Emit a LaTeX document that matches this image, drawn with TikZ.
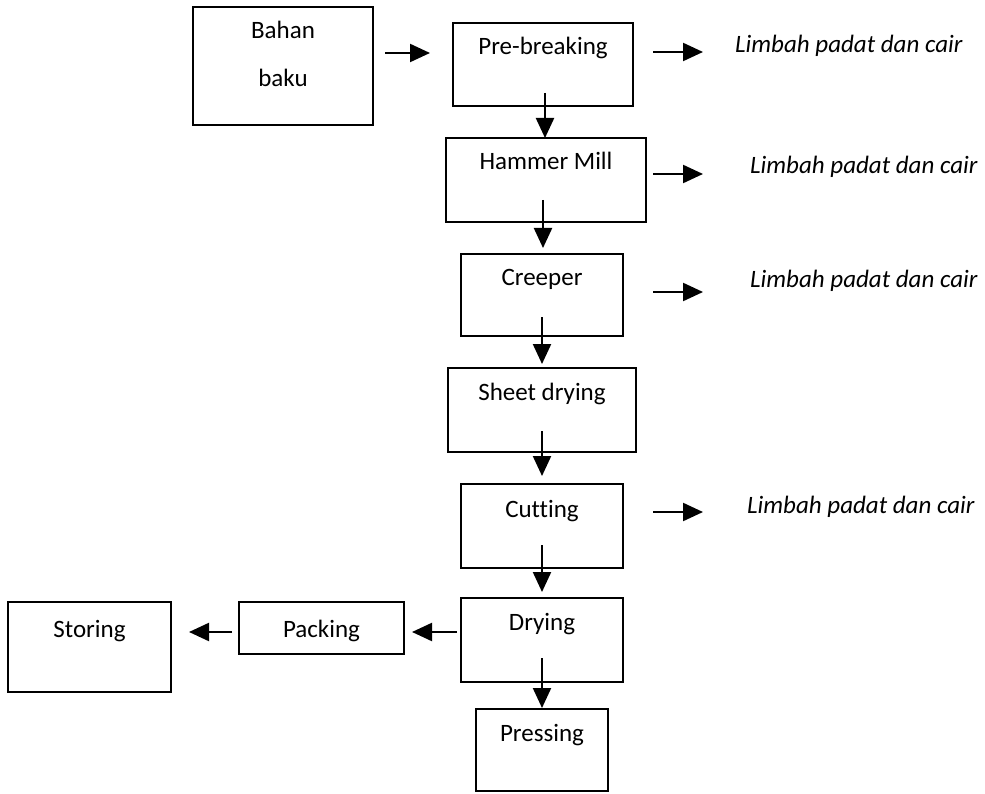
\documentclass[tikz,border=0pt]{standalone}
\usepackage{fontspec}
\setmainfont[Ligatures=CommonOff]{Carlito}
\usetikzlibrary{arrows.meta}
\begin{document}
\begin{tikzpicture}[x=1pt,y=-1pt,
  box/.style={draw,line width=2.4pt,inner sep=0pt},
  txt/.style={anchor=base,inner sep=0pt,font=\fontsize{25}{29}\selectfont},
  waste/.style={anchor=base west,inner sep=0pt,font=\fontsize{25}{29}\selectfont\itshape},
  arr/.style={line width=2.2pt,-{Triangle[length=20pt,width=18pt]}}]
\useasboundingbox (0,0) rectangle (985,794);
% boxes
\node[box,minimum width=180pt,minimum height=118pt] (bb) at (283,66) {};
\node[box,minimum width=180pt,minimum height=83pt] (pb) at (543,64.5) {};
\node[box,minimum width=200pt,minimum height=84pt] (hm) at (546,180) {};
\node[box,minimum width=162pt,minimum height=82pt] (cr) at (542,295) {};
\node[box,minimum width=188pt,minimum height=84pt] (sd) at (542,410) {};
\node[box,minimum width=162pt,minimum height=84pt] (cu) at (542,526) {};
\node[box,minimum width=162pt,minimum height=84pt] (dr) at (542,640) {};
\node[box,minimum width=132pt,minimum height=82pt] (pr) at (542,750) {};
\node[box,minimum width=165pt,minimum height=52pt] (pk) at (321.5,628) {};
\node[box,minimum width=163pt,minimum height=90pt] (st) at (89.5,647) {};
% box texts
\node[txt] (bbt1) at (283,39) {Bahan};
\node[txt] (bbt2) at (283,87) {baku};
\node[txt] (pbt) at (543,55) {Pre-breaking};
\node[txt] (hmt) at (546,170) {Hammer Mill};
\node[txt] (crt) at (542,286) {Creeper};
\node[txt] (sdt) at (542,400) {Sheet drying};
\node[txt] (cut) at (542,517) {Cutting};
\node[txt] (drt) at (542,630) {Drying};
\node[txt] (prt) at (542,741) {Pressing};
\node[txt] (pkt) at (321.5,637) {Packing};
\node[txt] (stt) at (89.5,637) {Storing};
% waste texts
\node[waste] (w1) at (735,53) {Limbah padat dan cair};
\node[waste] (w2) at (750,174) {Limbah padat dan cair};
\node[waste] (w3) at (750,288) {Limbah padat dan cair};
\node[waste] (w4) at (747,513) {Limbah padat dan cair};
% arrow end coordinates
\coordinate (a1s) at (385,53);  \coordinate (a1e) at (430,53);
\coordinate (w1s) at (653,52);  \coordinate (w1e) at (703,52);
\coordinate (w2s) at (653,174); \coordinate (w2e) at (703,174);
\coordinate (w3s) at (653,292); \coordinate (w3e) at (703,292);
\coordinate (w4s) at (653,512); \coordinate (w4e) at (703,512);
\coordinate (d1s) at (545,93);  \coordinate (d1e) at (545,138);
\coordinate (d2s) at (543,200); \coordinate (d2e) at (543,248);
\coordinate (d3s) at (542,317); \coordinate (d3e) at (542,364);
\coordinate (d4s) at (542,431); \coordinate (d4e) at (542,476);
\coordinate (d5s) at (542,545); \coordinate (d5e) at (542,592);
\coordinate (d6s) at (542,658); \coordinate (d6e) at (542,708);
\coordinate (l1s) at (457,632); \coordinate (l1e) at (412,632);
\coordinate (l2s) at (232,632); \coordinate (l2e) at (189,632);
% arrows
\draw[arr] (a1s) -- (a1e);
\draw[arr] (w1s) -- (w1e);
\draw[arr] (w2s) -- (w2e);
\draw[arr] (w3s) -- (w3e);
\draw[arr] (w4s) -- (w4e);
\draw[arr] (d1s) -- (d1e);
\draw[arr] (d2s) -- (d2e);
\draw[arr] (d3s) -- (d3e);
\draw[arr] (d4s) -- (d4e);
\draw[arr] (d5s) -- (d5e);
\draw[arr] (d6s) -- (d6e);
\draw[arr] (l1s) -- (l1e);
\draw[arr] (l2s) -- (l2e);
\end{tikzpicture}
\end{document}
